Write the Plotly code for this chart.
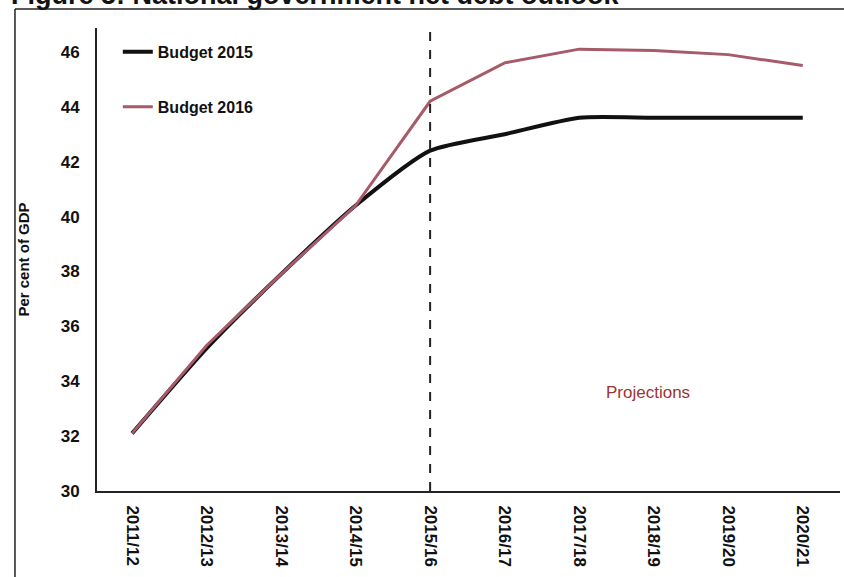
import plotly.graph_objects as go

years = ["2011/12", "2012/13", "2013/14", "2014/15", "2015/16",
         "2016/17", "2017/18", "2018/19", "2019/20", "2020/21"]
budget_2015 = [32.1, 35.2, 37.9, 40.4, 42.4, 43.0, 43.6, 43.6, 43.6, 43.6]
budget_2016 = [32.1, 35.3, 37.9, 40.4, 44.2, 45.6, 46.1, 46.05, 45.9, 45.5]
y_ticks = [30, 32, 34, 36, 38, 40, 42, 44, 46]
split_year = "2015/16"

FONT = "Liberation Sans, Arial, sans-serif"

fig = go.Figure()
fig.add_trace(go.Scatter(
    x=years, y=budget_2015, name="Budget 2015", mode="lines",
    line=dict(color="#111111", width=4, shape="spline", smoothing=0.6),
    legendgroup="b15", legendrank=1))
fig.add_trace(go.Scatter(
    x=years, y=budget_2016, name="Budget 2016", mode="lines",
    line=dict(color="#a65a6a", width=3), legendgroup="b16", legendrank=2))

fig.add_shape(type="line", xref="x", yref="paper", x0=split_year, x1=split_year,
              y0=0, y1=1, line=dict(color="#222222", width=2, dash="dash"))

# scanned page frame
fig.add_shape(type="line", xref="paper", yref="paper", x0=-0.1104, x1=1.01,
              y0=1.041, y1=1.041, line=dict(color="#222222", width=1.5))
fig.add_shape(type="line", xref="paper", yref="paper", x0=-0.1104, x1=-0.1104,
              y0=-0.2, y1=1.041, line=dict(color="#222222", width=1.5))

fig.add_annotation(text="Figure 5: National government net debt outlook",
                   xref="paper", yref="paper", x=-0.118, y=1.071,
                   xanchor="left", yanchor="middle", showarrow=False,
                   font=dict(family=FONT, size=27, color="#111111",
                             weight="bold"))

fig.add_annotation(text="Projections", xref="x", yref="y", x="2018/19", y=33.6,
                   showarrow=False, xanchor="center", xshift=-6,
                   font=dict(family=FONT, size=17, color="#9a3535"))

fig.update_layout(
    width=844, height=577,
    margin=dict(l=97, r=4, t=28, b=86, autoexpand=False),
    paper_bgcolor="white", plot_bgcolor="white",
    showlegend=True,
    legend=dict(x=0.028, y=0.985, xanchor="left", yanchor="top",
                traceorder="grouped", tracegroupgap=31,
                bgcolor="rgba(0,0,0,0)", itemwidth=30,
                font=dict(family=FONT, size=16, color="#111111",
                          weight="bold")),
    xaxis=dict(range=[-0.47, 9.5], tickangle=90, showgrid=False, ticks="",
               showline=True, linecolor="#222222", linewidth=2,
               automargin=False,
               tickfont=dict(family=FONT, size=17, color="#111111",
                             weight="bold"),
               ticklabelstandoff=9, zeroline=False),
    yaxis=dict(range=[30, 46.87], tickvals=y_ticks, showgrid=False, ticks="",
               showline=True, linecolor="#222222", linewidth=2,
               automargin=False,
               tickfont=dict(family=FONT, size=17, color="#111111",
                             weight="bold"),
               ticklabelstandoff=12, zeroline=False,
               title=dict(text="Per cent of GDP", standoff=27,
                          font=dict(family=FONT, size=15,
                                    color="#111111", weight="bold"))),
)

fig.write_html("out.html", config={"displayModeBar": False},
               post_script="document.body.style.margin='0';")
